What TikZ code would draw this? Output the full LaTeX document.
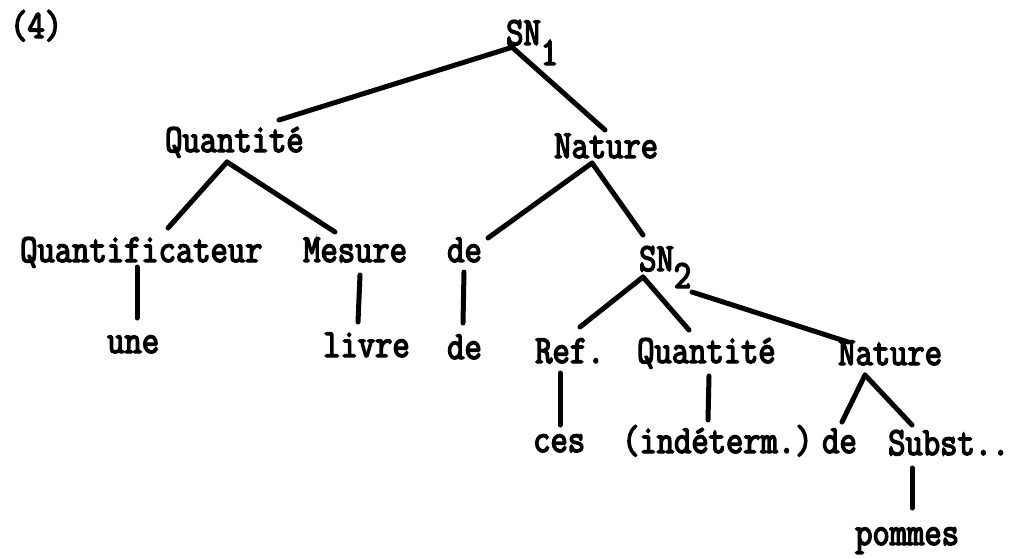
\documentclass[tikz,border=0pt]{standalone}
\usepackage{fontspec}
\newfontfamily\tw{Latin Modern Mono}[FakeStretch=0.84, FakeBold=3.6]
\begin{document}
\begin{tikzpicture}[x=1pt,y=-1pt,
  every node/.style={inner sep=0pt, anchor=base west, font=\tw\fontsize{40}{40}\selectfont},
  edge/.style={line width=5pt, line cap=round}]
\useasboundingbox (0,0) rectangle (1034,558);
% nodes
\node (num) at (10,38) {(4)};
\node (sn1) at (506,45) {SN\raisebox{-20pt}{1}};
\node (q1) at (165,152) {Quantité};
\node (n1) at (554,158) {Nature};
\node (qf) at (20,262) {Quantificateur};
\node (mes) at (303,262) {Mesure};
\node (de1) at (447,262) {de};
\node (sn2) at (639,271) {SN\raisebox{-17pt}{2}};
\node (une) at (107,353) {une};
\node (livre) at (323,357) {livre};
\node (de2) at (447,359) {de};
\node (ref) at (535,363) {Ref.};
\node (q2) at (637,363) {Quantité};
\node (n2) at (838,365) {Nature};
\node (ces) at (533,452) {ces};
\node (ind) at (622,453) {(indéterm.)};
\node (de3) at (822,453) {de};
\node (subst) at (888,455) {Subst..};
\node (pom) at (855,545) {pommes};
% connectors
\draw[edge] ([shift={(7,2)}]sn1.base west) -- ([shift={(114,-32)}]q1.base west);
\draw[edge] ([shift={(7,3)}]sn1.base west) -- ([shift={(51,-28)}]n1.base west);
\draw[edge] ([shift={(62,10)}]q1.base west) -- ([shift={(148,-34)}]qf.base west);
\draw[edge] ([shift={(62,10)}]q1.base west) -- ([shift={(32,-30)}]mes.base west);
\draw[edge] ([shift={(38,5)}]n1.base west) -- ([shift={(41,-24)}]de1.base west);
\draw[edge] ([shift={(38,5)}]n1.base west) -- ([shift={(4,-36)}]sn2.base west);
\draw[edge] ([shift={(117,5)}]qf.base west) -- ([shift={(30,-35)}]une.base west);
\draw[edge] ([shift={(57,13)}]mes.base west) -- ([shift={(35,-35)}]livre.base west);
\draw[edge] ([shift={(17,10)}]de1.base west) -- ([shift={(16,-36)}]de2.base west);
\draw[edge] ([shift={(4,6)}]sn2.base west) -- ([shift={(45,-36)}]ref.base west);
\draw[edge] ([shift={(4,6)}]sn2.base west) -- ([shift={(52,-33)}]q2.base west);
\draw[edge] ([shift={(53,21)}]sn2.base west) -- ([shift={(10,-23)}]n2.base west);
\draw[edge] ([shift={(25,10)}]ref.base west) -- ([shift={(27,-27)}]ces.base west);
\draw[edge] ([shift={(72,13)}]q2.base west) -- ([shift={(86,-33)}]ind.base west);
\draw[edge] ([shift={(27,10)}]n2.base west) -- ([shift={(20,-31)}]de3.base west);
\draw[edge] ([shift={(27,10)}]n2.base west) -- ([shift={(24,-30)}]subst.base west);
\draw[edge] ([shift={(24,13)}]subst.base west) -- ([shift={(57,-37)}]pom.base west);
\end{tikzpicture}
\end{document}
